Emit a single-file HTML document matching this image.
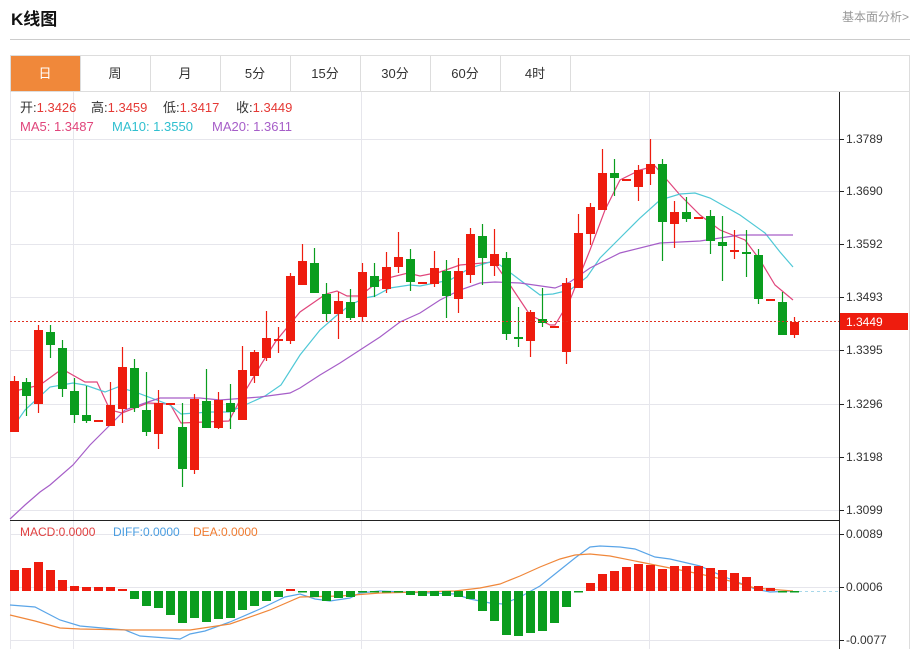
<!DOCTYPE html>
<html><head><meta charset="utf-8">
<style>
body{margin:0;background:#fff;width:915px;height:649px;overflow:hidden;font-family:"Liberation Sans","Noto Sans CJK SC",sans-serif;}
</style></head><body>
<svg id="s" width="915" height="649" xmlns="http://www.w3.org/2000/svg" style="position:absolute;left:0;top:0">
<text x="11" y="25" font-size="17" font-weight="bold" fill="#111" font-family="Liberation Sans,Noto Sans CJK SC,sans-serif">K线图</text>
<text x="909" y="21" font-size="12" fill="#999" text-anchor="end" font-family="Liberation Sans,Noto Sans CJK SC,sans-serif">基本面分析&gt;</text>
<line x1="10" y1="39.5" x2="910" y2="39.5" stroke="#ccc"/>
<rect x="10.5" y="55.5" width="899" height="600" fill="none" stroke="#ddd"/>
<line x1="10" y1="91.5" x2="910" y2="91.5" stroke="#ddd"/>
<rect x="11" y="56" width="69" height="35" fill="#f0883a"/>
<g id="tabs" font-size="13" fill="#333" text-anchor="middle" font-family="Liberation Sans,Noto Sans CJK SC,sans-serif"></g>
<g id="grid" stroke="#e6e6ec" stroke-width="1"></g>
<g id="ma"></g>
<g id="c"></g>
<line x1="10" y1="321.5" x2="839" y2="321.5" stroke="#e03020" stroke-dasharray="2,2"/>
<rect x="840" y="313" width="68" height="17" fill="#ee1c0e"/>
<text x="846" y="326" font-size="12" fill="#fff">1.3449</text>
<line x1="10" y1="520.5" x2="839" y2="520.5" stroke="#222"/>
<line x1="839.5" y1="92" x2="839.5" y2="649" stroke="#222"/>
<g id="ax" font-size="12" fill="#333"></g>
<g font-size="13" font-family="Liberation Sans,Noto Sans CJK SC,sans-serif">
<text x="20" y="112" fill="#333">开:<tspan fill="#e53935">1.3426</tspan></text>
<text x="91" y="112" fill="#333">高:<tspan fill="#e53935">1.3459</tspan></text>
<text x="163" y="112" fill="#333">低:<tspan fill="#e53935">1.3417</tspan></text>
<text x="236" y="112" fill="#333">收:<tspan fill="#e53935">1.3449</tspan></text>
<text x="20" y="131" fill="#e0457b">MA5: 1.3487</text>
<text x="112" y="131" fill="#2fbfcf">MA10: 1.3550</text>
<text x="212" y="131" fill="#a65ec8">MA20: 1.3611</text>
<text x="20" y="536" font-size="12" fill="#e04040">MACD:0.0000</text>
<text x="113" y="536" font-size="12" fill="#4a9de0">DIFF:0.0000</text>
<text x="193" y="536" font-size="12" fill="#f07c30">DEA:0.0000</text>
</g>
</svg>
<script>
const NS="http://www.w3.org/2000/svg";
function el(p,t,a,txt){const e=document.createElementNS(NS,t);for(const k in a)e.setAttribute(k,a[k]);if(txt)e.textContent=txt;document.getElementById(p).appendChild(e);return e;}
["日","周","月","5分","15分","30分","60分","4时"].forEach((t,i)=>{el("tabs","text",{x:45+70*i,y:78,fill:i==0?"#fff":"#333"},t);if(i>0)el("tabs","line",{x1:80+70*(i-1)+0.5,y1:56,x2:80+70*(i-1)+0.5,y2:91,stroke:"#ddd"});});
el("tabs","line",{x1:570.5,y1:56,x2:570.5,y2:91,stroke:"#ddd"});
const pl=[[139,"1.3789"],[191,"1.3690"],[244,"1.3592"],[297,"1.3493"],[350,"1.3395"],[404,"1.3296"],[457,"1.3198"],[510,"1.3099"],[534,"0.0089"],[587,"0.0006"],[640,"-0.0077"]];
pl.forEach(([y,t])=>{el("grid","line",{x1:10,y1:y+.5,x2:839,y2:y+.5});el("ax","line",{x1:839,y1:y+.5,x2:844,y2:y+.5,stroke:"#222"});el("ax","text",{x:846,y:y+4},t);});
[73,361,649].forEach(x=>{el("grid","line",{x1:x+.5,y1:92,x2:x+.5,y2:649});});
el("grid","line",{x1:10.5,y1:92,x2:10.5,y2:649});
const C=[[432,381,376,432],[382,396,378,416],[404,330,325,413],[332,345,325,358],[348,389,340,397],[391,415,378,423],[415,421,386,423],[421,420,420,421],[426,405,382,426],[409,367,347,423],[368,408,359,412],[410,432,372,436],[434,403,390,449],[404,403,403,404],[427,469,403,487],[470,399,394,474],[401,428,369,428],[428,400,392,429],[403,412,384,429],[420,370,346,420],[376,352,350,383],[358,338,311,361],[340,339,327,353],[341,276,273,344],[285,261,244,285],[263,293,248,293],[294,314,283,321],[314,301,292,339],[302,318,289,320],[317,272,263,322],[276,287,263,297],[289,267,252,293],[267,257,232,273],[259,282,249,291],[283,282,282,283],[284,268,251,287],[271,296,260,318],[299,271,258,313],[275,234,228,283],[236,258,224,285],[266,254,229,276],[258,334,252,340],[337,339,307,347],[341,312,310,357],[319,323,288,327],[327,326,326,327],[352,283,278,364],[288,233,214,288],[234,207,203,245],[210,173,149,210],[173,178,159,196],[180,179,179,180],[187,170,165,201],[174,164,139,185],[164,222,159,261],[224,212,201,248],[212,219,197,222],[218,217,217,218],[216,241,210,254],[242,246,216,281],[251,250,230,259],[252,253,230,277],[255,299,249,304],[300,299,299,300],[302,335,292,335],[335,322,317,338]];
const M=[570,568,562,570,580,586,587,587,587,589,599,606,608,615,623,618,622,619,618,610,606,601,597,589,592,597,601,598,597,592,592,592,592,595,596,596,596,597,599,611,621,635,636,633,631,623,607,592,583,574,571,567,564,565,569,566,566,566,568,570,573,577,586,588,592,591];
C.forEach((d,i)=>{const x=14+12*i,[o,c,h,l]=d,up=c<=o,col=up?"#ee1c0e":"#0a9d1e";
el("c","line",{x1:x+.5,y1:h,x2:x+.5,y2:l,stroke:col,"stroke-width":1.2});
const t=Math.min(o,c),b=Math.max(o,c);el("c","rect",{x:x-4,y:t,width:9,height:Math.max(2,b-t),fill:col});
const m=M[i],z=591;el("c","rect",{x:x-4,y:Math.min(m,z),width:9,height:Math.max(1.5,Math.abs(m-z)),fill:m<z?"#ee1c0e":"#0a9d1e"});});
function line(pts,col){el("ma","polyline",{points:pts.map(p=>p.join(",")).join(" "),fill:"none",stroke:col,"stroke-width":1.2});}
line([[11,392],[40,385],[62,369],[85,382],[97,382],[110,410],[122,413],[148,403],[170,404],[181,423],[205,422],[229,421],[241,398],[262,363],[276,341],[300,312],[326,294],[337,291],[347,296],[360,296],[380,280],[408,273],[420,276],[440,272],[460,265],[494,262],[510,285],[530,315],[550,325],[555,325],[570,300],[590,250],[605,210],[620,180],[640,170],[655,166],[680,195],[700,215],[720,230],[745,240],[760,260],[775,285],[793,300]],"#e0457b");
line([[11,430],[25,410],[50,387],[73,383],[85,385],[105,392],[118,387],[135,392],[170,405],[181,414],[210,412],[229,412],[245,405],[265,396],[281,385],[300,355],[320,330],[336,316],[350,305],[365,298],[375,296],[390,288],[410,285],[420,286],[450,280],[470,268],[490,262],[500,265],[520,280],[540,295],[553,294],[570,290],[587,277],[600,258],[620,238],[640,218],[660,200],[680,194],[695,193],[710,198],[740,215],[765,233],[780,252],[793,267]],"#4fc8d6");
line([[10,519],[25,505],[40,492],[50,485],[73,465],[90,445],[105,430],[125,410],[145,403],[160,398],[200,398],[220,400],[260,397],[290,393],[300,388],[320,375],[340,363],[360,350],[380,337],[400,322],[420,313],[440,300],[460,290],[480,283],[495,282],[520,283],[555,288],[570,282],[590,268],[620,253],[660,243],[700,241],[720,238],[740,235],[793,235]],"#a65ec8");
line([[10,605],[35,607],[60,620],[80,626],[125,630],[140,636],[180,639],[190,634],[205,631],[230,622],[260,609],[285,597],[300,594],[315,599],[330,601],[350,598],[360,593],[380,591],[455,594],[470,599],[490,603],[503,604],[520,597],[540,586],[560,570],[575,558],[590,547],[600,546],[620,547],[635,549],[655,557],[670,559],[700,566],[720,575],[740,583],[755,589],[770,592],[793,591]],"#5aa5e8");
line([[10,615],[35,621],[60,628],[80,629],[130,630],[190,630],[230,624],[270,610],[300,597],[340,596],[380,593],[455,591],[480,588],[500,584],[520,576],[540,567],[560,559],[575,555],[590,554],[610,556],[640,562],[670,568],[700,574],[730,581],[755,588],[793,591]],"#f0873a");
el("ma","line",{x1:793,y1:591.5,x2:839,y2:591.5,stroke:"#a8d8ea","stroke-dasharray":"3,3"});
</script>
</body></html>
